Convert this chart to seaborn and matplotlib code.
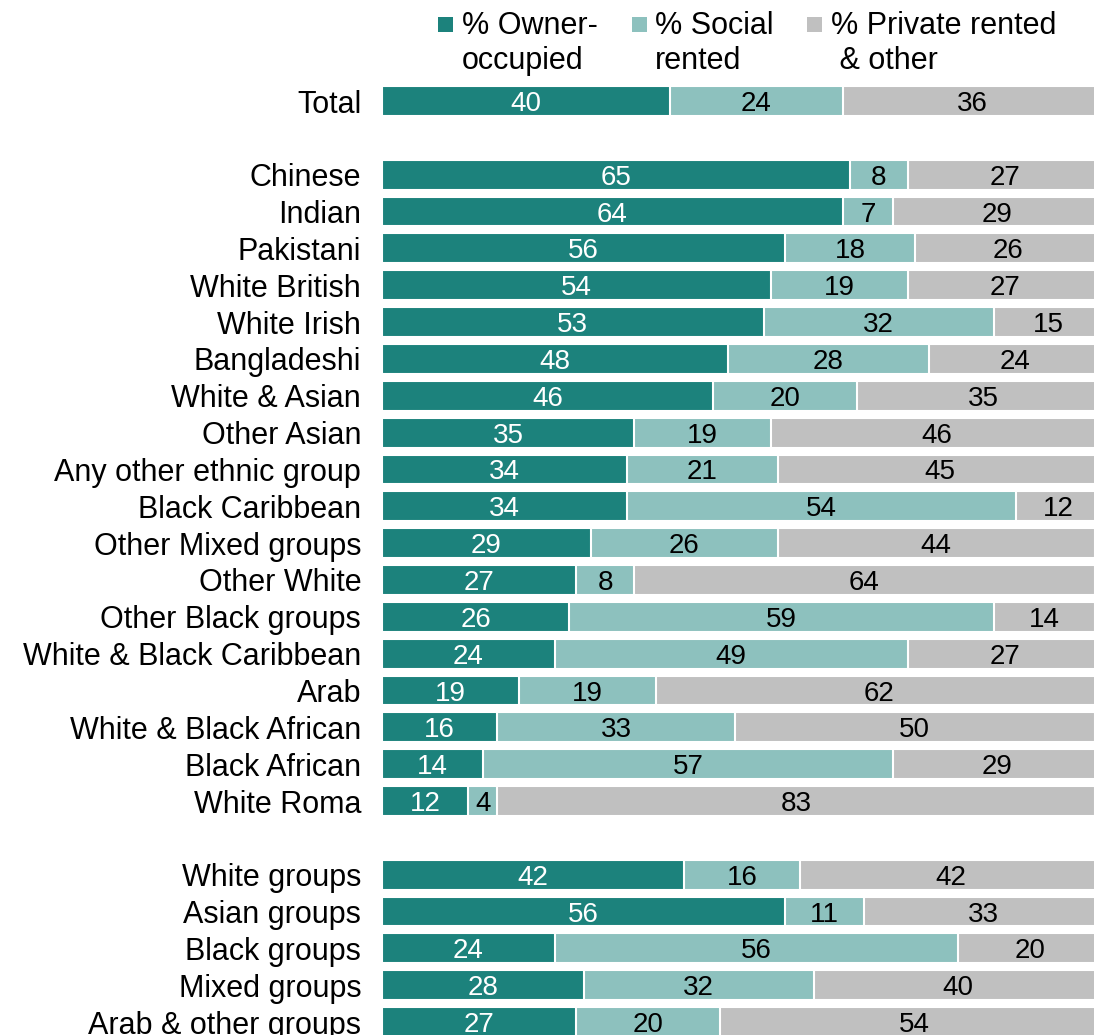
import matplotlib
matplotlib.use("Agg")
import matplotlib.pyplot as plt
from matplotlib.patches import Rectangle
import pandas as pd
import seaborn as sns

# categories (blank entries = gaps between groups)
groups = ["Total", "",
          "Chinese", "Indian", "Pakistani", "White British", "White Irish",
          "Bangladeshi", "White & Asian", "Other Asian", "Any other ethnic group",
          "Black Caribbean", "Other Mixed groups", "Other White",
          "Other Black groups", "White & Black Caribbean", "Arab",
          "White & Black African", "Black African", "White Roma", " ",
          "White groups", "Asian groups", "Black groups", "Mixed groups",
          "Arab & other groups"]

owner = [40, None, 65, 64, 56, 54, 53, 48, 46, 35, 34, 34, 29, 27, 26, 24, 19,
         16, 14, 12, None, 42, 56, 24, 28, 27]
social = [24, None, 8, 7, 18, 19, 32, 28, 20, 19, 21, 54, 26, 8, 59, 49, 19,
          33, 57, 4, None, 16, 11, 56, 32, 20]
private = [36, None, 27, 29, 26, 27, 15, 24, 35, 46, 45, 12, 44, 64, 14, 27,
           62, 50, 29, 83, None, 42, 33, 20, 40, 54]

series_names = ["% Owner-\noccupied", "% Social\nrented", "% Private rented\n & other"]
colors = ["#1c827c", "#8dc1be", "#c0c0c0"]

df = pd.DataFrame({"group": groups, "owner": owner, "social": social,
                   "private": private}).dropna()
df["c1"] = df["owner"]
df["c2"] = df["owner"] + df["social"]
df["c3"] = df["owner"] + df["social"] + df["private"]

sns.set_theme(style="white")
plt.rcParams["font.family"] = ["Liberation Sans", "DejaVu Sans"]
plt.rcParams["text.color"] = "black"
plt.rcParams["ytick.color"] = "black"

W, H = 1094, 1035
fig = plt.figure(figsize=(W / 100, H / 100), dpi=100)
ax = fig.add_axes([382 / W, 0, 1 - 382 / W, 1 - 82.6 / H])

# stacked bars drawn as overlapping cumulative bars
for col, c in zip(["c3", "c2", "c1"], colors[::-1]):
    sns.barplot(data=df, x=col, y="group", order=groups, color=c,
                width=0.81, edgecolor="white", linewidth=1.5, ax=ax,
                saturation=1)

ax.set_xlim(0, 98.9)
ax.set_ylim(25.35, -0.5)
ax.set_xlabel("")
ax.set_ylabel("")
ax.set_xticks([])
ax.tick_params(axis="y", length=0, pad=15, labelsize=22, labelcolor="black")
for s in ax.spines.values():
    s.set_visible(False)

# value labels
for i, g in enumerate(groups):
    if owner[i] is None:
        continue
    left = 0
    for v, tc in zip([owner[i], social[i], private[i]], ["white", "black", "black"]):
        ax.text(left + v / 2, i, str(v), ha="center", va="center_baseline",
                color=tc, fontsize=20)
        left += v

# legend
mx = [438, 632, 807]
tx = [462, 655, 831]
for m, t, c, name in zip(mx, tx, colors, series_names):
    fig.patches.append(Rectangle((m / W, 1 - 32 / H), 15 / W, 15 / H,
                                 facecolor=c, edgecolor="none",
                                 transform=fig.transFigure, figure=fig))
    fig.text(t / W, 1 - 11 / H, name, ha="left", va="top",
             fontsize=22, linespacing=1.2)

fig.savefig("out.png", dpi=100)
